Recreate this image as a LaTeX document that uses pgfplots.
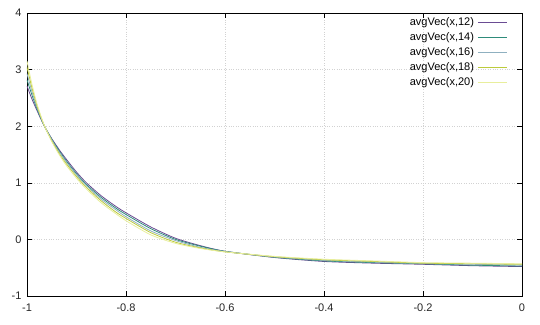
\documentclass[border=0pt]{standalone}
\usepackage{fontspec}
\setmainfont{Liberation Sans}
\usepackage{pgfplots}
\pgfplotsset{compat=1.18}
\usepackage{pgfplotstable}
\definecolor{c12}{HTML}{6A4C93}
\definecolor{c14}{HTML}{2E8B7A}
\definecolor{c16}{HTML}{8FB0C0}
\definecolor{c18}{HTML}{BCCB3C}
\definecolor{c20}{HTML}{E8EE9C}
\pgfplotstableread{
x      a12    a14    a16    a18    a20
-1     2.71   2.82   2.93   3.04   3.15
-0.99  2.48   2.55   2.61   2.68   2.74
-0.98  2.28   2.31   2.34   2.37   2.40
-0.97  2.09   2.10   2.11   2.12   2.13
-0.963 1.97   1.97   1.97   1.97   1.97
-0.95  1.78   1.77   1.76   1.74   1.73
-0.94  1.65   1.63   1.61   1.59   1.57
-0.933 1.56   1.54   1.52   1.49   1.47
-0.92  1.41   1.38   1.36   1.33   1.30
-0.9   1.19   1.16   1.14   1.11   1.08
-0.88  1.00   0.97   0.95   0.92   0.89
-0.85  0.77   0.74   0.71   0.68   0.645
-0.82  0.58   0.55   0.52   0.48   0.45
-0.8   0.47   0.44   0.40   0.37   0.33
-0.75  0.22   0.19   0.15   0.12   0.08
-0.7   0.02   0.00   -0.02  -0.05  -0.07
-0.65  -0.11  -0.12  -0.14  -0.15  -0.16
-0.6   -0.21  -0.21  -0.215 -0.22  -0.22
-0.5   -0.32  -0.315 -0.31  -0.305 -0.30
-0.4   -0.39  -0.38  -0.37  -0.36  -0.35
-0.3   -0.42  -0.41  -0.40  -0.39  -0.38
-0.2   -0.44  -0.43  -0.425 -0.42  -0.41
-0.1   -0.465 -0.455 -0.44  -0.43  -0.42
0      -0.48  -0.47  -0.455 -0.44  -0.43
}\datatable
\begin{document}
\begin{tikzpicture}
\begin{axis}[
  scale only axis,
  width=495pt, height=283pt,
  at={(0,0)}, anchor=south west,
  xmin=-1, xmax=0, ymin=-1, ymax=4,
  xtick={-1,-0.8,-0.6,-0.4,-0.2,0},
  xticklabels={-1,-0.8,-0.6,-0.4,-0.2,0},
  ytick={-1,0,1,2,3,4},
  yticklabels={-1,0,1,2,3,4},
  tick align=inside,
  major tick length=5pt,
  tick style={black, line width=0.6pt},
  ticklabel style={font=\fontsize{11}{13}\selectfont, text=black!85},
  xticklabel style={yshift=-4pt},
  yticklabel style={xshift=-2pt},
  grid=major,
  major grid style={dotted, gray!35, line width=0.5pt},
  axis line style={black, line width=0.8pt},
  legend style={draw=none, fill=none, at={(1,1)}, anchor=north east,
    xshift=-11pt, yshift=-1pt,
    font=\fontsize{11}{13}\selectfont, row sep=3pt,
    nodes={inner sep=0pt, text height=9pt, text depth=3pt},
    column sep=4pt},
  legend cell align=right,
  legend plot pos=right,
  legend image code/.code={\draw[#1] (0pt,0pt) -- (29pt,0pt);},
  every axis plot/.append style={line width=0.8pt, smooth, tension=0.4},
]
\addplot[c12] table[x=x,y=a12] {\datatable};
\addlegendentry{avgVec(x,12)}
\addplot[c14] table[x=x,y=a14] {\datatable};
\addlegendentry{avgVec(x,14)}
\addplot[c16] table[x=x,y=a16] {\datatable};
\addlegendentry{avgVec(x,16)}
\addplot[c18] table[x=x,y=a18] {\datatable};
\addlegendentry{avgVec(x,18)}
\addplot[c20] table[x=x,y=a20] {\datatable};
\addlegendentry{avgVec(x,20)}
\end{axis}
\pgfresetboundingbox
\path (-27pt,-28pt) rectangle (513pt,296pt);
\end{tikzpicture}
\end{document}
